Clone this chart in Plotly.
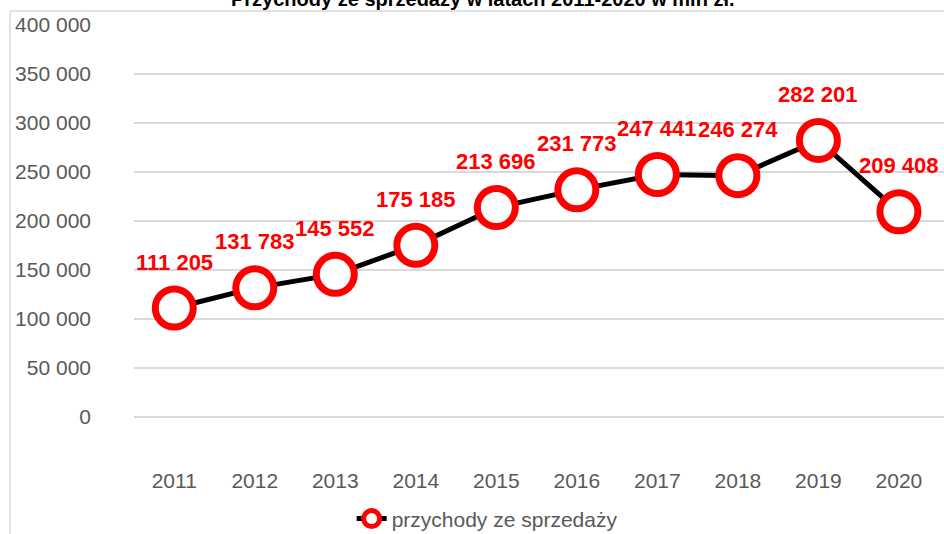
import plotly.graph_objects as go

years = ["2011", "2012", "2013", "2014", "2015", "2016", "2017", "2018", "2019", "2020"]
revenue = [111205, 131783, 145552, 175185, 213696, 231773, 247441, 246274, 282201, 209408]
y_ticks = [0, 50000, 100000, 150000, 200000, 250000, 300000, 350000, 400000]
y_tick_labels = ["0", "50 000", "100 000", "150 000", "200 000", "250 000", "300 000", "350 000", "400 000"]
series_name = "przychody ze sprzedaży"
title_text = "Przychody ze sprzedaży w latach 2011-2020 w mln zł."

labels = [f"{v:,}".replace(",", " ") for v in revenue]
FONT = "Arial, Liberation Sans, sans-serif"

fig = go.Figure()
fig.add_trace(go.Scatter(
    x=years, y=revenue, mode="lines+markers",
    name=series_name,
    line=dict(color="black", width=5),
    marker=dict(size=38, color="white", line=dict(color="#ff0000", width=7)),
    cliponaxis=False,
))

annotations = [dict(x=i, y=v, text="<b>" + t + "</b>", xref="x", yref="y", showarrow=False,
                    yshift=46, font=dict(family=FONT, size=22, color="#ff0000"))
               for i, (v, t) in enumerate(zip(revenue, labels))]
annotations.append(dict(text="<b>" + title_text + "</b>", xref="paper", yref="paper",
                        x=0.431, y=1.059, xanchor="center", yanchor="middle", showarrow=False,
                        font=dict(size=20, color="black")))

fig.update_layout(
    width=944, height=534,
    margin=dict(l=134, r=0, t=25, b=68, autoexpand=False),
    paper_bgcolor="white", plot_bgcolor="white",
    font=dict(family=FONT, size=21, color="#595959"),
    showlegend=True,
    legend=dict(orientation="h", x=0.436, xanchor="center", y=-0.12, yanchor="middle",
                font=dict(size=21, color="#595959")),
    xaxis=dict(type="category", range=[-0.5, 9.56], showgrid=False, showline=False,
               ticks="", automargin=False, tickfont=dict(size=21, color="#595959")),
    yaxis=dict(range=[-50000, 400000], tickvals=y_ticks, ticktext=y_tick_labels,
               showgrid=True, gridcolor="#d9d9d9", gridwidth=1.5, zeroline=False,
               showline=False, ticks="", ticklabelstandoff=42, automargin=False,
               tickfont=dict(size=21, color="#595959")),
    annotations=annotations,
    shapes=[dict(type="rect", xref="paper", yref="paper", x0=-0.153, x1=1.05, y0=-0.2, y1=1.0317,
                 line=dict(color="#d9d9d9", width=1.5), layer="below")],
)

fig.write_html("out.html", config={"displayModeBar": False},
               post_script="document.body.style.margin='0';")
